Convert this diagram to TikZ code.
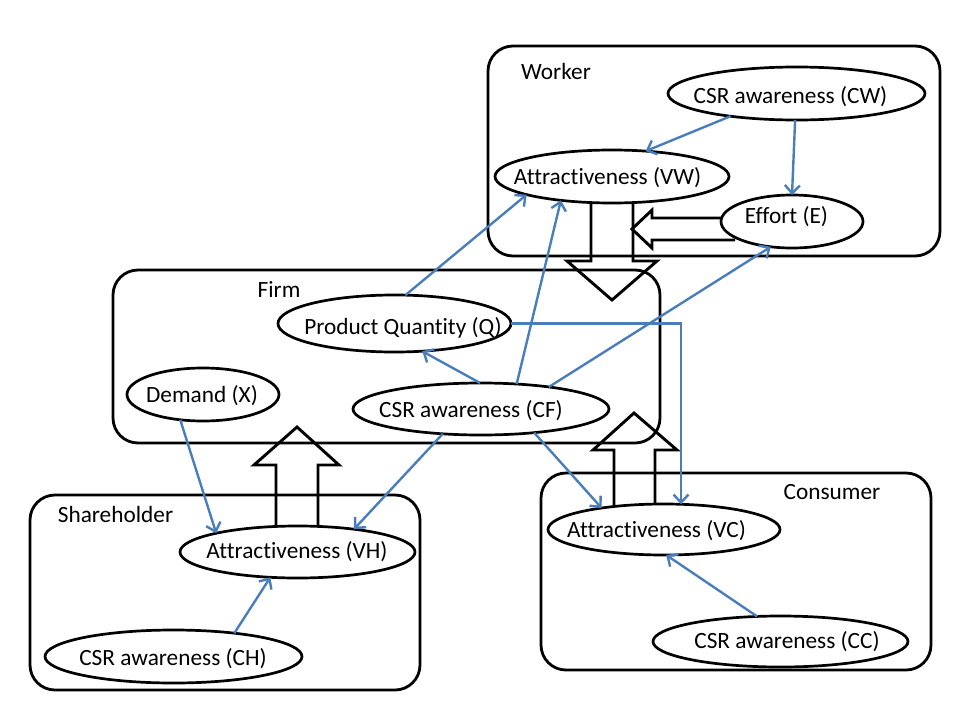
\documentclass[tikz,border=0pt]{standalone}
\usepackage{fontspec}
\setmainfont{Carlito}[Ligatures={NoCommon}]
\usetikzlibrary{arrows.meta,shapes.geometric}
\definecolor{connblue}{RGB}{74,126,187}
\begin{document}
\begin{tikzpicture}[x=1pt,y=-1pt,
  box/.style={draw=black,line width=2.8pt,rounded corners=25pt,inner sep=0pt,outer sep=0pt},
  ell/.style 2 args={draw=black,fill=white,line width=2.7pt,ellipse,inner sep=0pt,outer sep=0pt,minimum width=#1,minimum height=#2},
  txt/.style={anchor=base,inner sep=0pt,outer sep=0pt,font=\fontsize{23.3}{28}\selectfont},
  link/.style={draw=connblue,line width=2.4pt,-{Straight Barb[length=8pt,width=15pt]}},
  blockarrow/.style={draw=black,line width=2.9pt,line join=miter}
]
\useasboundingbox (0,0) rectangle (960,720);

% group boxes
\node[box,minimum width=452pt,minimum height=210pt] (worker) at (714,151) {};
\node[box,minimum width=547pt,minimum height=173pt] (firm) at (386.5,356.5) {};
\node[box,minimum width=390pt,minimum height=195pt] (share) at (225,592.5) {};
\node[box,minimum width=390pt,minimum height=197pt] (consumer) at (736,571.5) {};

% block arrows
\draw[blockarrow] (591,190) -- (591,261) -- (567,261) -- (612,300) -- (657,261) -- (633,261) -- (633,190);
\draw[blockarrow] (735,218) -- (652,218) -- (652,210) -- (632,229) -- (652,248) -- (652,240) -- (735,240);
\draw[blockarrow] (276,540) -- (276,465) -- (254,465) -- (297,427) -- (339,465) -- (318,465) -- (318,540);
\draw[blockarrow] (614,515) -- (614,450) -- (593,450) -- (634,413) -- (677,450) -- (655,450) -- (655,515);

% ellipses
\node[ell={257pt}{53pt}] (cw) at (796.5,93.5) {};
\node[ell={234pt}{53pt}] (vw) at (612,176.5) {};
\node[ell={142pt}{53pt}] (eff) at (792,221.5) {};
\node[ell={233pt}{57pt}] (q) at (394.5,323.5) {};
\node[ell={152pt}{53pt}] (dx) at (203,394.5) {};
\node[ell={256pt}{52pt}] (cf) at (481,409) {};
\node[ell={232pt}{51pt}] (vc) at (664,529.5) {};
\node[ell={255pt}{51pt}] (cc) at (780.5,641.5) {};
\node[ell={235pt}{52pt}] (vh) at (297.5,552) {};
\node[ell={257pt}{53pt}] (ch) at (173.5,656.5) {};

% texts
\node[txt] (tworker) at (556,79) {Worker};
\node[txt] (tfirm) at (279,297) {Firm};
\node[txt] (tcons) at (832,499) {Consumer};
\node[txt] (tshare) at (115.5,522) {Shareholder};
\node[txt] (tcw) at (790.5,103) {CSR awareness (CW)};
\node[txt] (tvw) at (607.5,184) {Attractiveness (VW)};
\node[txt] (teff) at (786.5,223) {Effort (E)};
\node[txt] (tq) at (403,334) {Product Quantity (Q)};
\node[txt] (tdx) at (202,402) {Demand (X)};
\node[txt] (tcf) at (471,417) {CSR awareness (CF)};
\node[txt] (tvc) at (656.5,537) {Attractiveness (VC)};
\node[txt] (tcc) at (787,648) {CSR awareness (CC)};
\node[txt] (tvh) at (297,558) {Attractiveness (VH)};
\node[txt] (tch) at (173,665) {CSR awareness (CH)};

% connectors
\draw[link] (cw.199) -- (vw.37);
\draw[link] (cw.267) -- (eff.90);
\draw[link] (q.69) -- (vw.192);
\draw[link] (cf.35) -- (vw.205);
\draw[link] (cf.18) -- (eff.230);
\draw[link] (cf.92) -- (q.-45);
\draw[link] (q.east) -| (vc.56);
\draw[link] (cf.213) -- (vh.22);
\draw[link] (cf.336) -- (vc.161);
\draw[link] (cc.133) -- (vc.275);
\draw[link] (dx.228) -- (vh.167);
\draw[link] (ch.21.5) -- (vh.223);
\end{tikzpicture}
\end{document}
